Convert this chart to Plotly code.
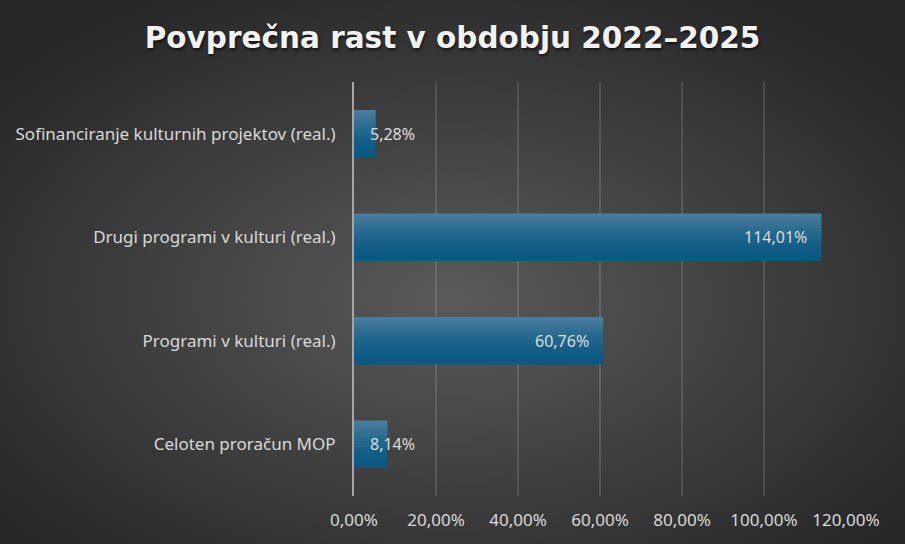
import urllib.parse
import plotly.graph_objects as go

# Data
categories = [
    "Celoten proračun MOP",
    "Programi v kulturi (real.)",
    "Drugi programi v kulturi (real.)",
    "Sofinanciranje kulturnih projektov (real.)",
]
growth = [8.14, 60.76, 114.01, 5.28]
tick_vals = [0, 20, 40, 60, 80, 100, 120]
tick_text = ["0,00%", "20,00%", "40,00%", "60,00%", "80,00%", "100,00%", "120,00%"]
labels = [f"{v:.2f}%".replace(".", ",") for v in growth]

# radial gray background as svg
bg_svg = (
    '<svg xmlns="http://www.w3.org/2000/svg" width="905" height="544">'
    '<defs><radialGradient id="g" cx="50%" cy="55%" r="65%">'
    '<stop offset="0" stop-color="#5a5a5a"/>'
    '<stop offset="1" stop-color="#262626"/>'
    '</radialGradient></defs>'
    '<rect width="905" height="544" fill="url(#g)"/></svg>'
)
bg_src = "data:image/svg+xml;charset=utf-8," + urllib.parse.quote(bg_svg)

fig = go.Figure()

# bar drawn as stacked horizontal bands -> vertical gradient (light top, dark bottom)
bar_w = 0.46
top_col = (0x4a, 0x7d, 0x9d)
bot_col = (0x0a, 0x59, 0x83)
n_bands = 16
band = bar_w / n_bands
for i in range(n_bands):
    t = i / (n_bands - 1)  # 0 = bottom, 1 = top
    c = tuple(round(b + (a - b) * t ** 1.6) for a, b in zip(top_col, bot_col))
    off = -bar_w / 2 + i * band
    fig.add_trace(go.Bar(
        y=categories,
        x=growth,
        orientation="h",
        width=min(band * 1.8, bar_w / 2 - off),
        offset=off,
        marker=dict(color="rgb(%d,%d,%d)" % c, line=dict(width=0)),
        hoverinfo="skip",
    ))

# labels near the bar end (small bars: label pushed past the bar)
min_anchor = 18.3
for cat, v, lab in zip(categories, growth, labels):
    fig.add_annotation(
        x=max(v, min_anchor), y=cat, text=lab,
        xanchor="right", xshift=-12, showarrow=False,
        font=dict(family="Noto Sans", size=16, color="#dcdcdc"),
    )

fig.update_layout(
    width=905, height=544,
    margin=dict(l=354, r=59, t=82, b=48),
    paper_bgcolor="#3a3a3a",
    plot_bgcolor="rgba(0,0,0,0)",
    showlegend=False,
    barmode="overlay",
    images=[dict(
        source=bg_src, xref="paper", yref="paper",
        x=-354 / 492, y=1 + 82 / 414,
        sizex=905 / 492, sizey=544 / 414,
        xanchor="left", yanchor="top",
        sizing="stretch", layer="below",
    )],
    title=dict(
        text="<b>Povprečna rast v obdobju 2022–2025</b>",
        x=0.5, xref="container", xanchor="center",
        y=0.93, yref="container", yanchor="middle",
        font=dict(family="DejaVu Sans", size=29.5, color="#f2f2f2",
                  shadow="1px 2px 3px rgba(0,0,0,0.6)"),
    ),
    font=dict(family="Noto Sans", size=17, color="#d9d9d9"),
)

fig.update_xaxes(
    range=[0, 120],
    tickvals=tick_vals,
    ticktext=tick_text,
    showgrid=True,
    gridcolor="rgba(255,255,255,0.12)",
    gridwidth=1.5,
    zeroline=False,
    showline=False,
    ticks="",
    ticklabelstandoff=12,
    tickfont=dict(family="Noto Sans", size=17, color="#d9d9d9"),
)
fig.update_yaxes(
    showgrid=False,
    showline=True,
    linecolor="#a6a6a6",
    linewidth=2,
    ticks="",
    ticklabelstandoff=13,
    tickfont=dict(family="Noto Sans", size=17, color="#d9d9d9"),
)

fig.write_html("out.html", config={"displayModeBar": False},
               post_script="document.body.style.margin='0';")
